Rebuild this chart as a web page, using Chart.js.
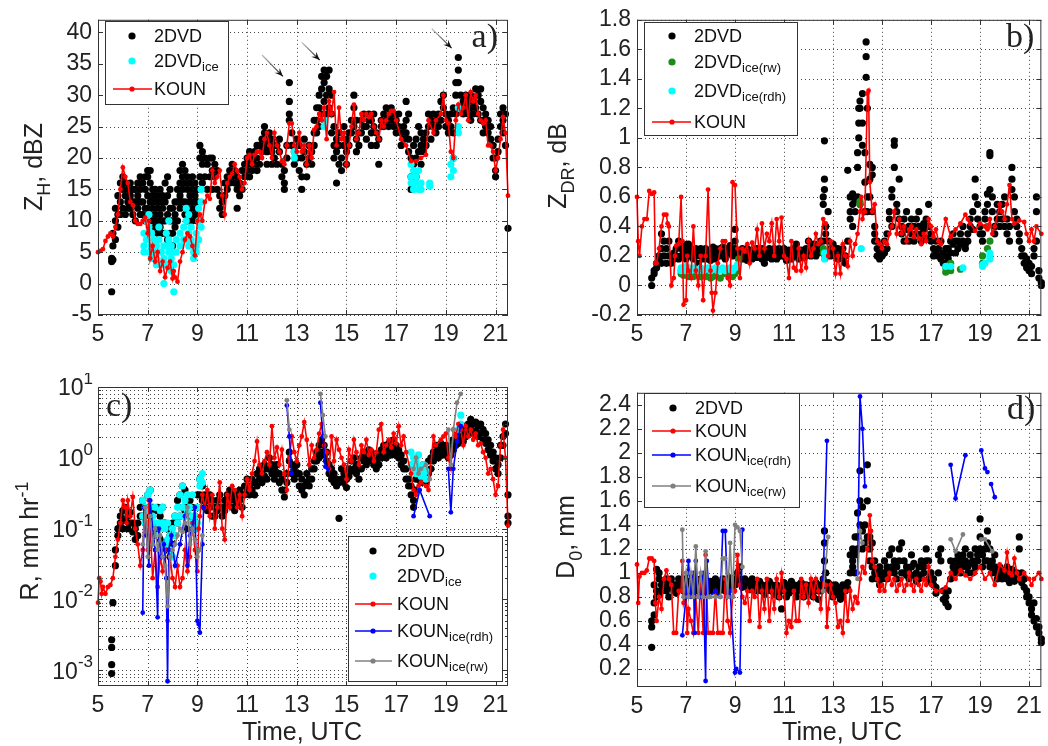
<!DOCTYPE html>
<html>
<head>
<meta charset="utf-8">
<script src="https://cdn.jsdelivr.net/npm/chart.js@4.4.0/dist/chart.umd.min.js"></script>
<style>
  body { margin: 0; background: #fff; }
  #wrap { position: relative; width: 1048px; height: 746px; overflow: hidden; }
  canvas { position: absolute; }
</style>
</head>
<body>
<div id="wrap">
  <canvas id="pa" width="524" height="373" style="left:0;top:0"></canvas>
  <canvas id="pb" width="524" height="373" style="left:524px;top:0"></canvas>
  <canvas id="pc" width="524" height="373" style="left:0;top:373px"></canvas>
  <canvas id="pd" width="524" height="373" style="left:524px;top:373px"></canvas>
</div>
<script>
// time axis (UTC hours)
const xTicks = [5, 7, 9, 11, 13, 15, 17, 19, 21];
const zhTicks = [-5, 0, 5, 10, 15, 20, 25, 30, 35, 40];
const zdrTicks = [-0.2, 0, 0.2, 0.4, 0.6, 0.8, 1, 1.2, 1.4, 1.6, 1.8];
const rDecades = [1e-3, 1e-2, 1e-1, 1, 10];
const d0Ticks = [0.2, 0.4, 0.6, 0.8, 1, 1.2, 1.4, 1.6, 1.8, 2, 2.2, 2.4];

// ---- a) Z_H, dBZ ----  rows: [time, values...]
const zhDvd = [
[5.55,4,3.5,-1.3],[5.6,6,8,3.8],[5.7,10,12,7],[5.8,11,14,9],[5.9,16,13,11],[6.0,17,15,12],[6.1,14,16,11],[6.2,13,15,12],[6.3,12,14,16],[6.4,11,15,13],
[6.5,13,15,10],[6.6,14,16,12],[6.7,15,13,17,11],[6.8,16,13,11],[6.9,15,12,17,10],[7.0,14,17,18,12],[7.1,18,16,13,11],[7.2,14,12,15,10],[7.3,13,11,15,9],[7.4,12,14,10,8],
[7.5,13,15,11,9],[7.6,14,12,10,8],[7.7,16,13,8,10],[7.8,17,14,7,11],[7.9,15,12,10,8],[8.0,12,10,6,8],[8.1,11,9,13],[8.2,13,15,10],[8.3,16,18,14,12],[8.4,17,19,15,13],
[8.5,16,13,18,11],[8.6,15,12,17,10],[8.7,14,16,13,11],[8.8,15,17,12,10],[8.9,14,16,11,13],[9.0,13,15,10,12],[9.1,20,22,17],[9.2,19,16,21],[9.3,17,20],[9.4,19,15],
[9.5,20,17],[9.6,18,15,20],[9.7,17,19],[9.8,15,18],[9.9,14,12],[10.0,11,13],[10.1,16,14],[10.2,17,15],[10.3,16,18],[10.4,17,19],
[10.5,18,16],[10.6,15,12,17],[10.7,14,16],[10.8,15,18],[10.9,17,19],[11.0,20,18],[11.1,19,21,17],[11.2,20,18],[11.3,21,19],[11.4,20,22,18],
[11.5,22,19],[11.6,23,21],[11.7,24,25,22],[11.8,23,21,19],[11.9,22,24],[12.0,21,23,19],[12.1,20,22],[12.2,22,19],[12.3,21,23],[12.4,17,19],
[12.5,16,18,15],[12.6,22,20],[12.7,32,29,27,26],[12.8,24,22],[12.9,21,19],[13.0,23,20],[13.1,22,18],[13.2,17,15,20],[13.3,21,23],[13.4,19,17],
[13.5,22,20],[13.6,21,19],[13.7,24,26,22],[13.8,26,28,24],[13.9,28,30,25],[14.0,31,33,27],[14.1,34,32,29],[14.2,33,30,27],[14.3,34,31,28],[14.4,30,27,24],
[14.5,25,22,20],[14.6,23,21,16],[14.7,24,22,19],[14.8,20,18],[14.9,22,25],[15.0,21,19,23],[15.1,24,22],[15.2,26,24],[15.3,28,30,25],[15.4,26,23,21],
[15.5,24,22],[15.6,26,24],[15.7,27,25],[15.8,25,23],[15.9,27,26],[16.0,26,24,22],[16.1,25,27],[16.2,24,22],[16.3,23,19],[16.4,26,25],
[16.5,27,25],[16.6,28,26],[16.7,27,25],[16.8,28,26],[16.9,27,25],[17.0,26,24],[17.1,25,27],[17.2,24,22],[17.3,25,23],[17.4,26,29,24],
[17.5,27,23,21],[17.6,20,17,15],[17.7,22,19],[17.8,23,20,17],[17.9,25,21],[18.0,24,22,19],[18.1,23,21],[18.2,24,22],[18.3,27,25],[18.4,26,23],
[18.5,25,27],[18.6,24,26],[18.7,27,25],[18.8,26,29],[18.9,30,28],[19.0,27,25],[19.1,26,24],[19.2,25,27],[19.3,28,24,20],[19.4,32,30,27],
[19.5,36,34,32],[19.6,30,28],[19.7,27,29],[19.8,30,28],[19.9,29,27],[20.0,30,28,26],[20.1,29,27],[20.2,31,28],[20.3,30,27],[20.4,31,29,26],
[20.5,28,26,24],[20.6,27,25],[20.7,26,24],[20.8,25,23],[20.9,22,20],[21.0,18,17,20],[21.1,21,23],[21.2,25,27],[21.3,28,26,24],[21.4,27,22],[21.5,8.8]
];
const zhIce = [
[6.85,8,6,5],[6.95,10,7],[7.05,11,9,5],[7.15,8,6,4],[7.25,7,5],[7.35,6,4,3],[7.45,9,7,5],[7.55,5,3],[7.65,6,4,0],[7.75,8,6,3],
[7.85,10,7,5],[7.95,6,4,2],[8.05,5,-1.3,3],[8.15,7,5],[8.3,8,6],[8.45,9,7],[8.55,12,10,7],[8.65,11,8,6],[8.75,9,7],[8.85,6,5,4],
[8.95,8,6,5],[9.05,12,10,7],[9.15,15,13,9],[12.9,21,20],[14.1,26,25],[17.6,19,17,16],[17.7,18,15],[17.8,17,16],[17.9,18,15],[18.0,16,15],
[18.35,16,15.5],[19.2,19,17],[19.3,18,20],[19.5,25,24,28]
];
const zhKoun = [
[5.0,5],[5.1,5.2],[5.2,5.5],[5.3,6.8],[5.4,7.5],[5.5,8],[5.6,7.5],[5.7,9],[5.8,11],[5.9,15],[6.0,18.5],[6.1,17],[6.2,16],[6.3,13],[6.4,12.5],
[6.5,10],[6.6,9.5],[6.7,9.5],[6.8,10],[6.9,10.5],[7.0,8],[7.05,10],[7.1,4],[7.2,6],[7.3,3.5],[7.4,5],[7.5,2],[7.6,3.5],[7.7,1],[7.8,2.5],
[7.9,3.5],[8.0,0.8],[8.05,2],[8.1,1],[8.2,0.3],[8.3,3.5],[8.4,5],[8.5,7],[8.6,8],[8.7,7.5],[8.8,6],[8.9,4.5],[9.0,10],[9.1,11],[9.2,10],
[9.3,13],[9.4,14],[9.5,13.5],[9.6,18],[9.7,16],[9.8,17],[9.9,18],[10.0,14],[10.1,11],[10.2,16],[10.3,17],[10.4,17.5],[10.5,19],[10.6,18],[10.7,17],
[10.8,15],[10.9,16],[11.0,20],[11.1,20.5],[11.2,19],[11.3,20.5],[11.4,21],[11.5,21],[11.6,20],[11.7,23],[11.8,24],[11.9,22],[12.0,20],[12.1,24],[12.2,22],
[12.3,21],[12.4,19.5],[12.5,19],[12.6,22],[12.7,25.5],[12.8,25.5],[12.9,22],[13.0,21],[13.1,24],[13.2,21],[13.3,22],[13.4,19],[13.5,22],[13.6,20],[13.7,24.5],
[13.8,25],[13.9,27],[14.0,26],[14.1,28],[14.2,23],[14.3,29],[14.4,27],[14.5,30.5],[14.6,22],[14.7,28],[14.8,23],[14.9,24],[15.0,19],[15.1,22],[15.2,25],
[15.3,28.5],[15.4,23],[15.5,24],[15.6,27],[15.7,26],[15.8,27],[15.9,26.5],[16.0,27],[16.1,25],[16.2,24],[16.3,23],[16.4,26],[16.5,25],[16.6,26],[16.7,27],
[16.8,27.5],[16.9,27.5],[17.0,26],[17.2,23],[17.4,22],[17.6,19.5],[17.8,19.5],[18.0,20],[18.2,20.5],[18.3,26],[18.5,24],[18.6,26],[18.8,27],[18.9,30],[19.0,26],
[19.1,25.5],[19.2,21],[19.3,20],[19.4,26],[19.5,28.5],[19.6,27],[19.7,28],[19.8,30],[19.9,26],[20.0,30.5],[20.1,29],[20.2,30],[20.3,27],[20.4,26],[20.5,25.5],
[20.6,26],[20.7,22],[20.8,22],[20.9,21],[21.0,18],[21.1,20],[21.2,23],[21.3,26.5],[21.4,24],[21.5,14]
];
// arrows pointing at the peaks: [tail, tip] in data units
const zhArrows = [[[11.6,36.4],[12.44,33]], [[13.2,38.4],[13.92,35.6]], [[18.43,40.6],[19.23,37.5]]];

// ---- b) Z_DR, dB ----
const zdrDvd = [
[5.6,0,0.05],[5.7,0.08,0.1],[5.8,0.12,0.15],[5.9,0.18,0.2],[6.0,0.25,0.35,0.15],[6.1,0.3,0.2],[6.2,0.25,0.15],[6.3,0.2,0.3],[6.4,0.2,0.15],[6.5,0.22,0.18],
[6.6,0.2,0.25],[6.7,0.18,0.3],[6.8,0.25,0.2],[6.9,0.28,0.22],[7.0,0.25,0.18],[7.1,0.22,0.28],[7.2,0.2,0.25],[7.3,0.18,0.22],[7.4,0.2,0.25],[7.5,0.15,0.22],
[7.6,0.25,0.2],[7.7,0.22,0.18],[7.8,0.2,0.25],[7.9,0.18,0.23],[8.0,0.2,0.17],[8.1,0.22,0.26],[8.2,0.18,0.25],[8.3,0.22,0.2],[8.4,0.25,0.2],[8.5,0.22,0.26],
[8.6,0.2,0.18],[8.7,0.25,0.23],[8.8,0.22,0.27],[8.9,0.2,0.24],[9.0,0.25,0.38,0.3],[9.1,0.2,0.22],[9.2,0.22,0.18],[9.3,0.18,0.25],[9.4,0.2,0.22],[9.5,0.25,0.17],
[9.6,0.22,0.2],[9.7,0.18,0.24],[9.8,0.2,0.23],[9.9,0.25,0.19],[10.0,0.22,0.2],[10.1,0.18,0.25],[10.2,0.2,0.15],[10.3,0.23,0.19],[10.4,0.2,0.25],[10.5,0.18,0.22],
[10.6,0.25,0.2],[10.7,0.22,0.18],[10.8,0.2,0.25],[10.9,0.23,0.2],[11.0,0.2,0.25],[11.1,0.22,0.17],[11.2,0.2,0.24],[11.3,0.18,0.22],[11.4,0.25,0.2],[11.5,0.22,0.28],
[11.6,0.2,0.18],[11.7,0.24,0.2],[11.8,0.22,0.19],[11.9,0.25,0.2],[12.0,0.3,0.22],[12.1,0.25,0.2],[12.2,0.22,0.28],[12.3,0.2,0.25],[12.4,0.28,0.22],[12.5,0.25,0.3],
[12.6,0.55,0.6,0.3],[12.65,0.98,0.72,0.65],[12.7,0.4,0.35],[12.8,0.5,0.3],[12.9,0.25,0.2],[13.0,0.22,0.28],[13.1,0.2,0.25],[13.2,0.25,0.18],[13.3,0.2,0.22],[13.4,0.18,0.25],
[13.5,0.2,0.15],[13.6,0.3,0.78],[13.7,0.5,0.6,0.45],[13.8,0.55,0.62,0.4],[13.9,0.5,0.58],[14.0,0.8,0.9,0.6],[14.05,1.0,1.1,1.2],[14.1,1.25,1.2,0.55],[14.2,1.3,1.1,0.95],[14.3,0.9,0.7,0.5],
[14.35,1.55,1.65,1.41],[14.4,1.2,0.6,0.5],[14.5,0.82,0.72,0.6],[14.6,0.75,0.8,0.5],[14.7,0.35,0.3,0.4],[14.8,0.25,0.2,0.3],[14.9,0.18,0.22],[15.0,0.2,0.25],[15.1,0.3,0.22],[15.2,0.25,0.35],
[15.3,0.45,0.5],[15.4,0.6,0.65,0.4],[15.5,0.98,0.95,0.8],[15.6,0.55,0.5],[15.7,0.45,0.72],[15.8,0.35,0.4],[15.9,0.3,0.45],[16.0,0.38,0.5],[16.1,0.4,0.3],[16.2,0.35,0.45],
[16.3,0.3,0.4],[16.4,0.45,0.35],[16.5,0.4,0.5],[16.6,0.3,0.35],[16.7,0.38,0.42],[16.8,0.32,0.45],[16.9,0.4,0.55],[17.0,0.35,0.3],[17.1,0.25,0.2],[17.2,0.3,0.22],
[17.3,0.2,0.25],[17.4,0.18,0.3],[17.5,0.15,0.22],[17.6,0.2,0.25],[17.7,0.25,0.18],[17.8,0.22,0.3],[17.9,0.28,0.35],[18.0,0.22,0.3],[18.1,0.3,0.25],[18.2,0.35,0.28],
[18.3,0.3,0.4],[18.4,0.28,0.25],[18.5,0.35,0.3],[18.6,0.4,0.45],[18.7,0.5,0.38],[18.8,0.6,0.72],[18.9,0.55,0.45],[19.0,0.4,0.35],[19.1,0.35,0.3],[19.2,0.5,0.45],
[19.3,0.55,0.62],[19.4,0.88,0.9,0.65],[19.5,0.6,0.5],[19.6,0.4,0.35],[19.7,0.45,0.55],[19.8,0.4,0.5],[19.9,0.45,0.55],[20.0,0.6,0.4],[20.1,0.45,0.35],[20.2,0.4,0.3],
[20.3,0.65,0.72,0.8],[20.4,0.6,0.5],[20.5,0.4,0.45],[20.6,0.3,0.35],[20.7,0.25,0.2],[20.8,0.15,0.2],[20.9,0.12,0.18],[21.0,0.1,0.15],[21.1,0.08,0.13],[21.2,0.2,0.25],
[21.3,0.3,0.6,0.5],[21.4,0.05,0.1],[21.5,0,0.02]
];
const zdrIceRw = [
[6.8,0.1,0.08],[6.9,0.07],[7.0,0.08],[7.1,0.06],[7.2,0.07],[7.3,0.06],[7.4,0.08],[7.5,0.07],[7.6,0.06],[7.7,0.07],[7.8,0.06],[7.9,0.08],[8.0,0.05],
[8.1,0.06],[8.2,0.07],[8.4,0.05],[8.6,0.08],[8.8,0.07],[8.9,0.06],[9.0,0.08],[9.1,0.1],[9.15,0.18],[12.6,0.25,0.22],[14.1,0.55,0.57],
[17.6,0.09,0.12],[17.8,0.1,0.15],[18.2,0.11],[19.1,0.15,0.2],[19.3,0.25,0.4],[19.4,0.3]
];
const zdrIceRdh = [
[6.8,0.12,0.1],[6.9,0.11],[7.0,0.1,0.13],[7.1,0.12],[7.2,0.1],[7.3,0.12],[7.4,0.11],[7.5,0.1],[7.6,0.12],[7.7,0.1],[7.8,0.11],[7.9,0.12],[8.0,0.1],
[8.1,0.11],[8.2,0.12],[8.3,0.1],[8.4,0.11],[8.5,0.12],[8.6,0.1],[8.7,0.11],[8.8,0.12],[8.9,0.1],[9.0,0.12],[9.1,0.14],[12.65,0.18,0.22],[14.15,0.25],
[17.6,0.13],[17.8,0.13],[18.3,0.12],[19.1,0.14,0.13],[19.2,0.15],[19.4,0.18,0.2,0.22]
];
const zdrKoun = [
[5.0,0.6],[5.05,0.3],[5.1,0.2],[5.2,0.4],[5.3,0.45],[5.4,0.45],[5.5,0.64],[5.6,0.62],[5.7,0.63],[5.75,0.15],[5.8,0.15],[5.9,0.25],[6.0,0.4],[6.1,0.48],[6.2,0.48],
[6.25,0.42],[6.3,0.4],[6.4,0],[6.5,0.05],[6.55,0.2],[6.6,0.27],[6.7,0.28],[6.8,0.6],[6.85,0.3],[6.9,-0.13],[7.0,-0.1],[7.05,0.2],[7.1,0.1],[7.2,0.05],[7.3,0.4],
[7.4,0.1],[7.5,0],[7.6,0.2],[7.7,-0.1],[7.8,0.2],[7.9,0.65],[8.0,0.1],[8.05,-0.05],[8.1,-0.17],[8.2,-0.05],[8.3,0.15],[8.4,0.25],[8.5,0.3],[8.6,0.3],[8.7,0.05],
[8.8,0],[8.9,0.7],[9.0,0.68],[9.1,0.25],[9.2,0.05],[9.3,0.25],[9.4,0.23],[9.5,0.28],[9.6,0.15],[9.7,0.29],[9.8,0.25],[9.9,0.38],[10.0,0.2],[10.1,0.42],[10.2,0.25],
[10.3,0.35],[10.4,0.3],[10.5,0.42],[10.6,0.2],[10.7,0.45],[10.8,0.3],[10.9,0.46],[11.0,0.2],[11.1,0.18],[11.2,0.05],[11.3,0.3],[11.4,0.12],[11.5,0.1],[11.6,0.25],[11.7,0.1],
[11.8,0.2],[11.9,0.12],[12.0,0.3],[12.1,0.2],[12.2,0.25],[12.3,0.35],[12.4,0.28],[12.5,0.3],[12.6,0.45],[12.7,0.42],[12.8,0.2],[12.9,0.3],[13.0,0.25],[13.1,0.08],[13.2,0.2],
[13.3,0.08],[13.4,0.28],[13.5,0.2],[13.6,0.13],[13.7,0.3],[13.8,0.2],[13.9,0.28],[14.0,0.35],[14.1,0.5],[14.15,0.6],[14.2,0.45],[14.3,0.5],[14.4,1.3],[14.45,1.32],[14.5,0.7],
[14.6,0.5],[14.7,0.55],[14.8,0.3],[14.9,0.28],[15.0,0.25],[15.1,0.3],[15.2,0.28],[15.3,0.35],[15.4,0.4],[15.5,0.5],[15.6,0.35],[15.7,0.45],[15.8,0.35],[15.9,0.4],[16.0,0.3],
[16.1,0.38],[16.2,0.4],[16.3,0.33],[16.4,0.38],[16.5,0.32],[16.6,0.28],[16.7,0.35],[16.8,0.3],[16.9,0.45],[17.0,0.4],[17.1,0.33],[17.2,0.38],[17.3,0.3],[17.4,0.28],[17.6,0.45],
[17.8,0.33],[18.0,0.38],[18.2,0.42],[18.4,0.48],[18.5,0.45],[18.6,0.42],[18.8,0.37],[19.0,0.42],[19.2,0.4],[19.3,0.38],[19.4,0.45],[19.5,0.35],[19.6,0.4],[19.8,0.55],[19.9,0.5],
[20.0,0.45],[20.1,0.55],[20.2,0.68],[20.3,0.45],[20.4,0.42],[20.6,0.44],[20.8,0.43],[20.9,0.35],[21.0,0.3],[21.1,0.38],[21.2,0.3],[21.3,0.4],[21.5,0.35]
];

// ---- c) R, mm/hr ----
const rDvd = [
[5.55,0.0009,0.0012,0.0021,0.0027],[5.6,0.009],[5.7,0.03,0.05],[5.8,0.1,0.08],[5.9,0.15,0.12],[6.0,0.18,0.1],[6.1,0.2,0.13],[6.2,0.15,0.1],[6.3,0.12,0.17],[6.4,0.09,0.12],
[6.5,0.07,0.1],[6.6,0.12,0.08],[6.7,0.2,0.15],[6.8,0.25,0.15],[6.9,0.2,0.12],[7.0,0.3,0.2],[7.1,0.35,0.15],[7.2,0.2,0.1],[7.3,0.18,0.08],[7.4,0.2,0.1],
[7.5,0.15,0.07],[7.6,0.2,0.12],[7.7,0.12,0.06],[7.8,0.1,0.05],[7.9,0.08,0.04],[8.0,0.12,0.06],[8.1,0.15,0.08],[8.2,0.25,0.12],[8.3,0.3,0.15],[8.4,0.4,0.2],
[8.5,0.35,0.18],[8.6,0.2,0.1],[8.7,0.25,0.15],[8.8,0.2,0.12],[8.9,0.15,0.1],[9.0,0.3,0.2],[9.1,0.5,0.3],[9.2,0.4,0.25],[9.3,0.3,0.2],[9.4,0.25,0.18],
[9.5,0.3,0.2],[9.6,0.25,0.15],[9.7,0.2,0.15],[9.8,0.25,0.18],[9.9,0.3,0.2],[10.0,0.2,0.15],[10.1,0.25,0.18],[10.2,0.3,0.22],[10.3,0.35,0.25],[10.4,0.3,0.2],
[10.5,0.25,0.18],[10.6,0.3,0.22],[10.7,0.35,0.25],[10.8,0.3,0.2],[10.9,0.4,0.3],[11.0,0.5,0.35],[11.1,0.4,0.3],[11.2,0.5,0.35],[11.3,0.45,0.3],[11.4,0.6,0.4],
[11.5,0.7,0.5],[11.6,0.6,0.45],[11.7,0.8,0.55],[11.8,0.7,0.5],[11.9,1.0,0.7],[12.0,0.8,0.6],[12.1,0.7,0.5],[12.2,0.8,0.6],[12.3,0.6,0.45],[12.4,0.5,0.35],
[12.5,0.35,0.28],[12.6,0.6,0.45],[12.7,1.2,0.9],[12.8,0.8,0.6],[12.9,0.7,0.5],[13.0,0.8,0.6],[13.1,0.6,0.4],[13.2,0.5,0.35],[13.3,0.4,0.3],[13.4,0.6,0.45],
[13.5,0.5,0.4],[13.6,0.7,0.5],[13.7,0.9,0.7],[13.8,1.2,0.9],[13.9,1.5,1.0],[14.0,1.8,1.2],[14.1,1.5,1.1],[14.2,1.2,0.9],[14.3,0.8,0.6],[14.4,0.7,0.5],
[14.5,0.6,0.45],[14.6,0.5,0.4],[14.7,0.14,0.45],[14.8,0.7,0.5],[14.9,0.6,0.45],[15.0,0.5,0.38],[15.1,0.7,0.55],[15.2,0.9,0.65],[15.3,1.0,0.7],[15.4,0.8,0.6],
[15.5,0.7,0.5],[15.6,1.0,0.7],[15.7,1.2,0.9],[15.8,1.0,0.8],[15.9,1.3,0.9],[16.0,1.2,1.0],[16.1,1.0,0.8],[16.2,0.9,0.7],[16.3,1.1,0.8],[16.4,1.3,1.0],
[16.5,1.5,1.1],[16.6,1.3,1.0],[16.7,1.6,1.2],[16.8,1.4,1.1],[16.9,1.8,1.3],[17.0,1.5,1.1],[17.1,1.3,1.0],[17.2,1.1,0.8],[17.3,0.9,0.7],[17.4,0.7,0.5],
[17.5,0.5,0.4],[17.6,0.4,0.3],[17.7,0.25,0.2],[17.8,0.5,0.35],[17.9,0.7,0.5],[18.0,0.6,0.45],[18.1,0.8,0.55],[18.2,0.6,0.45],[18.3,0.9,0.6],[18.4,1.0,0.7],
[18.5,1.2,0.9],[18.6,1.5,1.1],[18.7,1.3,1.0],[18.8,1.6,1.2],[18.9,1.4,1.1],[19.0,1.5,1.2],[19.1,1.3,1.0],[19.2,1.5,1.1],[19.3,1.8,1.3],[19.4,2.0,1.5],
[19.5,2.2,1.6],[19.6,2.5,1.8],[19.7,2.2,1.7],[19.8,2.8,2.0],[19.9,3.0,2.2],[20.0,3.5,2.5],[20.1,3.0,2.2],[20.2,3.2,2.4],[20.3,2.8,2.0],[20.4,3.0,2.2],
[20.5,2.5,1.8],[20.6,2.2,1.6],[20.7,1.8,1.3],[20.8,1.5,1.1],[20.9,1.2,0.9],[21.0,1.0,0.7],[21.1,0.8,0.6],[21.2,1.5,1.0],[21.3,2.0,1.5],[21.4,3.0,2.2],
[21.5,0.15,0.12,0.3]
];
const rIce = [
[6.8,0.25,0.15],[6.9,0.2,0.12],[7.0,0.3,0.18],[7.1,0.35,0.2],[7.2,0.15,0.1],[7.3,0.2,0.12],[7.4,0.12,0.08],[7.5,0.18,0.1],[7.6,0.2,0.12],[7.7,0.1,0.06],
[7.8,0.12,0.07],[7.9,0.08,0.05],[8.0,0.1,0.04],[8.1,0.15,0.08],[8.2,0.2,0.12],[8.3,0.3,0.15],[8.4,0.4,0.2],[8.5,0.25,0.15],[8.6,0.3,0.18],[8.7,0.2,0.12],
[8.8,0.3,0.15],[8.9,0.15,0.1],[9.0,0.2,0.12],[9.1,0.5,0.4],[9.2,0.6,0.45],[17.6,1.2,0.8],[17.7,1.0,0.7],[17.8,0.9,0.6],[17.9,1.1,0.75],[18.0,0.7,0.55],
[18.1,0.8,0.6],[18.2,0.65,0.5],[19.5,2.5],[19.6,4.0,3.0]
];
const rKoun = [
[5.0,0.009],[5.05,0.02],[5.1,0.018],[5.15,0.012],[5.2,0.015],[5.3,0.012],[5.4,0.015],[5.5,0.016],[5.6,0.02],[5.7,0.04],[5.8,0.07],[5.9,0.12],[6.0,0.25],[6.1,0.2],[6.15,0.12],
[6.2,0.25],[6.3,0.15],[6.4,0.28],[6.5,0.1],[6.6,0.06],[6.7,0.03],[6.8,0.05],[6.9,0.2],[7.0,0.05],[7.05,0.25],[7.1,0.1],[7.2,0.02],[7.3,0.05],[7.4,0.015],[7.5,0.04],
[7.6,0.025],[7.7,0.05],[7.8,0.005],[7.9,0.04],[8.0,0.02],[8.1,0.015],[8.2,0.03],[8.3,0.015],[8.4,0.02],[8.5,0.05],[8.6,0.025],[8.7,0.04],[8.8,0.12],[8.9,0.05],[9.0,0.025],
[9.05,0.1],[9.1,0.15],[9.2,0.3],[9.3,0.2],[9.4,0.35],[9.5,0.15],[9.6,0.3],[9.7,0.1],[9.8,0.2],[9.9,0.45],[10.0,0.1],[10.1,0.07],[10.2,0.3],[10.3,0.2],[10.4,0.4],
[10.5,0.35],[10.6,0.2],[10.7,0.3],[10.8,0.15],[10.9,0.3],[11.0,0.5],[11.1,0.35],[11.2,0.6],[11.3,0.9],[11.4,1.7],[11.5,0.8],[11.6,0.6],[11.7,0.9],[11.8,1.2],[11.9,0.8],
[12.0,2.8],[12.1,1.0],[12.2,1.4],[12.3,0.8],[12.4,1.3],[12.5,0.6],[12.6,0.35],[12.7,1.0],[12.8,2.0],[12.9,1.2],[13.0,0.9],[13.1,1.5],[13.2,2.0],[13.3,3.2],[13.4,1.8],
[13.5,0.8],[13.6,1.5],[13.7,1.0],[13.8,1.3],[13.9,2.2],[14.0,3.0],[14.1,1.5],[14.2,1.2],[14.3,0.7],[14.4,2.0],[14.5,0.9],[14.6,1.8],[14.7,1.3],[14.8,1.0],[14.9,0.8],
[15.0,0.5],[15.1,1.3],[15.2,0.9],[15.3,1.8],[15.4,1.2],[15.5,0.8],[15.6,1.5],[15.7,1.2],[15.8,1.8],[15.9,1.1],[16.0,1.3],[16.1,0.9],[16.2,1.2],[16.3,2.5],[16.4,3.0],
[16.5,1.2],[16.6,1.5],[16.7,1.8],[16.8,1.4],[16.9,2.2],[17.0,1.6],[17.1,2.8],[17.2,1.5],[17.3,2.0],[17.4,1.2],[17.6,0.6],[17.7,0.35],[17.8,0.3],[17.9,0.4],[18.0,0.45],
[18.2,0.4],[18.3,0.35],[18.5,2.0],[18.6,1.5],[18.8,1.8],[18.9,2.0],[19.0,2.2],[19.1,1.0],[19.2,0.7],[19.3,2.5],[19.4,2.0],[19.5,3.0],[19.6,2.5],[19.7,1.5],[19.8,2.8],
[19.9,2.0],[20.0,2.5],[20.1,1.8],[20.2,2.2],[20.3,1.5],[20.4,1.6],[20.5,1.2],[20.6,1.0],[20.7,0.6],[20.8,0.7],[20.9,0.5],[21.0,0.3],[21.1,0.4],[21.2,1.5],[21.3,2.5],
[21.4,1.0],[21.5,0.11]
];
const rKounRdh = [
[6.8,0.0065],[6.85,0.2],[6.95,0.08],[7.05,0.03],[7.1,0.25],[7.2,0.1],[7.3,0.05],[7.4,0.0056],[7.45,0.1],[7.55,0.04],[7.65,0.06],[7.75,0.02],[7.8,0.0007],
[7.85,0.05],[7.95,0.08],[8.1,0.03],[8.3,0.06],[8.5,0.15],[8.6,0.03],[8.7,0.08],[8.8,0.1],[8.9,0.2],[9.0,0.005],[9.05,0.0045],[9.1,0.0034],[9.2,0.06],[9.25,0.2],
[9.3,null],[12.6,5.5],[12.7,2.0],[12.8,0.6],[12.9,null],[13.95,6.0],[14.05,2.0],[14.15,0.75],[14.25,0.7],[14.3,null],
[17.7,0.15],[17.95,0.35],[18.35,0.15],[18.5,null],[19.1,0.7],[19.2,0.17],[19.3,0.7],[19.45,1.7],[19.6,2.8]
];
const rKounRw = [
[6.8,0.06],[6.9,0.2],[7.0,0.04],[7.1,0.15],[7.2,0.06],[7.3,0.1],[7.4,0.05],[7.5,0.08],[7.6,0.04],[7.7,0.03],[7.8,0.008],[7.9,0.04],[8.0,0.05],[8.1,0.06],[8.2,0.08],
[8.3,0.1],[8.4,0.09],[8.5,0.12],[8.6,0.2],[8.7,0.06],[8.8,0.1],[8.9,0.07],[9.0,0.04],[9.1,0.05],[9.2,0.08],[9.3,null],[12.6,6.5],[12.7,2.5],[12.8,null],
[13.95,8.0],[14.05,4.0],[14.15,2.0],[14.3,null],[17.7,0.7],[17.8,1.0],[17.9,0.6],[18.0,0.7],[18.2,0.8],[18.35,0.5],[18.5,null],
[19.1,2.5],[19.2,0.8],[19.3,2.5],[19.45,6.0],[19.6,8.0]
];

// ---- d) D0, mm ----
const d0Dvd = [
[5.6,0.38,0.55,0.6],[5.7,0.65,0.75,0.9],[5.8,0.8,1.03,0.85],[5.9,0.95,1.0,0.82],[6.0,0.9,0.85],[6.1,0.92,0.88],[6.2,0.85,0.95],[6.3,0.8,0.9],[6.4,0.88,0.95],[6.5,0.85,0.9],
[6.6,0.9,0.83],[6.7,0.95,0.87],[6.8,0.88,0.92],[6.9,0.85,0.95],[7.0,0.9,0.82],[7.1,0.87,0.93],[7.2,0.9,0.85],[7.3,0.95,0.88],[7.4,0.85,0.9],[7.5,0.92,0.86],
[7.6,0.88,0.95],[7.7,0.9,0.83],[7.8,0.86,0.94],[7.9,0.9,0.85],[8.0,0.93,0.88],[8.1,0.85,0.9],[8.2,0.88,0.95],[8.3,0.9,0.84],[8.4,0.86,0.92],[8.5,0.9,0.95],
[8.6,0.88,0.85],[8.7,0.93,0.87],[8.8,0.9,0.96],[8.9,0.88,0.94],[9.0,0.95,0.9],[9.1,0.92,1.0],[9.2,0.95,1.05],[9.3,0.92,0.88],[9.4,0.9,0.95],[9.5,0.88,0.93],
[9.6,0.92,0.86],[9.7,0.9,0.95],[9.8,0.87,0.92],[9.9,0.9,0.85],[10.0,0.93,0.88],[10.1,0.85,0.9],[10.2,0.88,0.82],[10.3,0.9,0.85],[10.4,0.87,0.93],[10.5,0.9,0.85],
[10.6,0.82,0.88],[10.7,0.85,0.9],[10.8,0.88,0.8],[10.9,0.7,0.85],[11.0,0.88,0.92],[11.1,0.85,0.8],[11.2,0.9,0.83],[11.3,0.87,0.93],[11.4,0.85,0.9],[11.5,0.8,0.88],
[11.6,0.9,0.85],[11.7,0.86,0.92],[11.8,0.8,0.88],[11.9,0.85,0.9],[12.0,0.88,0.82],[12.1,0.9,0.85],[12.2,0.85,0.8],[12.3,0.88,0.92],[12.4,0.85,0.78],[12.5,0.9,0.85],
[12.6,0.95,0.88],[12.65,1.35,1.25,1.1],[12.7,1.0,0.9],[12.8,0.92,0.87],[12.9,0.85,0.9],[13.0,0.88,0.8],[13.1,0.9,0.85],[13.2,0.82,0.88],[13.3,0.85,0.78],[13.4,0.8,0.9],
[13.5,0.88,0.85],[13.6,0.92,0.87],[13.7,1.0,1.15],[13.8,1.2,1.05,1.1],[13.9,1.3,1.15,1.0],[14.0,1.5,1.3,1.2],[14.1,1.6,1.85,1.4],[14.2,1.55,1.35,1.2],[14.3,1.4,1.25],[14.4,1.9,1.6,1.3],
[14.5,1.3,1.2,1.1],[14.6,1.25,1.05,0.95],[14.7,1.1,1.0],[14.8,1.0,0.95],[14.9,0.9,1.05],[15.0,0.95,1.0],[15.1,1.0,1.1],[15.2,1.05,0.95],[15.3,1.15,1.0],[15.4,1.2,1.05],
[15.5,1.1,1.0],[15.6,1.05,0.95],[15.7,1.2,1.1],[15.8,1.25,1.0],[15.9,1.1,1.0],[16.0,1.05,0.98],[16.1,1.0,0.95],[16.2,1.15,1.05],[16.3,1.08,0.98],[16.4,1.0,0.93],
[16.5,1.05,0.95],[16.6,0.98,1.1],[16.7,1.0,1.05],[16.8,1.2,1.1],[16.9,1.1,0.95],[17.0,1.0,0.92],[17.1,0.95,0.9],[17.2,0.88,0.83],[17.3,1.0,1.15],[17.4,1.1,1.2],
[17.5,0.85,0.78],[17.6,0.75,0.8],[17.7,0.85,0.72],[17.8,0.95,1.1],[17.9,1.05,1.0],[18.0,1.1,1.0],[18.1,1.15,1.05],[18.2,1.1,1.0],[18.3,1.05,1.15],[18.4,1.2,1.1],
[18.5,1.05,1.0],[18.6,1.15,1.08],[18.7,1.1,1.0],[18.8,1.2,1.05],[18.9,1.1,1.15],[19.0,1.45,1.3,1.2],[19.1,1.15,1.05],[19.2,1.2,1.1],[19.3,1.35,1.25,1.1],[19.4,1.2,1.05],
[19.5,1.1,1.0],[19.6,1.05,1.15],[19.7,1.0,0.95],[19.8,1.05,0.98],[19.9,1.0,0.95],[20.0,0.98,1.02],[20.1,0.95,1.05],[20.2,1.0,0.92],[20.3,0.97,1.03],[20.4,0.93,1.0],
[20.5,1.0,0.95],[20.6,1.3,1.2],[20.7,1.0,0.92],[20.8,0.95,0.88],[20.9,0.85,0.8],[21.0,0.8,0.75],[21.1,0.7,0.65],[21.2,0.75,0.6],[21.3,0.62,0.55],[21.4,0.5,0.55],
[21.5,0.42,0.45]
];
const d0Koun = [
[5.0,1.07],[5.05,0.75],[5.1,0.97],[5.2,1.0],[5.3,1.0],[5.4,1.02],[5.5,1.12],[5.6,1.12],[5.7,1.1],[5.75,0.75],[5.8,0.6],[5.9,0.8],[6.0,0.7],[6.1,0.95],[6.2,1.02],
[6.3,0.95],[6.4,0.9],[6.5,0.5],[6.6,0.5],[6.7,0.85],[6.8,0.85],[6.85,1.1],[6.9,0.75],[7.0,0.85],[7.05,0.5],[7.1,0.7],[7.2,0.6],[7.3,0.5],[7.4,0.8],[7.5,0.5],
[7.6,0.95],[7.7,0.5],[7.8,1.15],[7.9,0.5],[8.0,0.5],[8.1,0.5],[8.2,0.85],[8.3,0.5],[8.4,0.5],[8.5,0.5],[8.6,0.95],[8.7,0.6],[8.8,0.5],[8.9,0.8],[9.0,0.85],
[9.1,1.15],[9.2,0.9],[9.3,0.8],[9.4,0.75],[9.5,0.85],[9.6,0.6],[9.7,0.85],[9.8,0.8],[9.9,0.95],[10.0,0.55],[10.1,0.85],[10.2,0.7],[10.3,0.95],[10.4,0.6],[10.5,0.85],
[10.6,0.7],[10.7,0.95],[10.8,0.8],[10.9,1.0],[11.0,0.85],[11.1,0.5],[11.2,0.6],[11.3,0.55],[11.4,0.85],[11.5,0.6],[11.6,0.6],[11.7,0.95],[11.8,0.8],[11.9,0.9],[12.0,0.75],
[12.1,0.95],[12.2,0.8],[12.3,0.95],[12.4,0.85],[12.5,0.7],[12.6,0.95],[12.7,0.9],[12.75,0.55],[12.8,0.7],[12.9,0.9],[13.0,0.8],[13.1,0.75],[13.2,0.55],[13.3,0.6],[13.4,0.5],
[13.5,0.85],[13.6,0.6],[13.7,0.85],[13.8,0.7],[13.9,0.8],[14.0,0.75],[14.1,0.95],[14.2,1.05],[14.3,1.0],[14.4,1.2],[14.5,1.48],[14.55,1.35],[14.6,1.1],[14.7,1.05],[14.8,0.95],
[14.9,0.85],[15.0,0.9],[15.1,0.85],[15.2,0.95],[15.3,1.0],[15.4,0.9],[15.5,0.95],[15.6,0.85],[15.7,0.9],[15.8,0.95],[15.9,0.85],[16.0,0.9],[16.1,1.0],[16.2,0.9],[16.3,0.85],
[16.4,0.95],[16.5,0.9],[16.6,0.85],[16.7,0.95],[16.8,0.9],[16.9,1.05],[17.0,0.9],[17.2,0.85],[17.4,0.85],[17.6,0.88],[17.8,1.0],[18.0,0.95],[18.2,1.02],[18.4,0.98],[18.6,0.95],
[18.8,1.0],[19.0,1.05],[19.2,0.95],[19.4,1.0],[19.6,0.9],[19.8,1.07],[20.0,1.02],[20.1,1.17],[20.2,1.0],[20.3,0.98],[20.4,1.12],[20.5,1.0],[20.6,0.95],[20.8,1.0],[21.0,0.95],
[21.1,0.9],[21.2,0.95],[21.4,1.0],[21.5,0.95]
];
const d0KounRdh = [
[6.85,0.48],[7.0,0.8],[7.1,1.1],[7.2,0.8],[7.3,1.0],[7.35,0.5],[7.4,1.1],[7.5,0.8],[7.6,0.8],[7.7,1.0],[7.8,0.1],[7.85,1.1],[7.95,0.8],[8.2,0.85],[8.4,0.8],
[8.5,1.35],[8.6,1.35],[8.7,0.8],[8.8,0.85],[9.0,0.17],[9.05,0.2],[9.2,0.17],[9.3,1.36],[9.4,null],[12.6,0.95],[12.75,2.1],[12.9,null],
[14.0,1.0],[14.1,2.47],[14.2,2.2],[14.3,1.72],[14.4,null],[17.8,1.9],[18.0,1.62],[18.4,1.98],[18.6,null],
[19.05,2.02],[19.2,1.87],[19.3,1.84],[19.38,null],[19.45,1.74],[19.6,1.63]
];
const d0KounRw = [
[6.85,1.36],[6.9,0.8],[7.0,1.0],[7.1,0.8],[7.2,1.0],[7.3,0.8],[7.4,1.22],[7.5,0.8],[7.6,1.0],[7.7,0.8],[7.8,1.18],[7.9,0.8],[8.0,0.8],[8.2,0.8],[8.4,0.8],
[8.5,1.12],[8.6,1.12],[8.7,0.8],[8.8,1.25],[8.9,0.8],[9.0,1.4],[9.1,1.38],[9.2,1.35],[9.3,1.05],[9.4,null],[12.6,0.85],[12.8,1.3],[12.9,null],
[14.0,0.95],[14.1,1.35],[14.2,1.25],[14.3,null],[17.8,1.28],[18.0,1.18],[18.3,1.32],[18.5,null],[19.05,1.28],[19.2,1.28],[19.5,1.18]
];

const SANS = '"Liberation Sans", Arial, Helvetica, sans-serif';
const SERIF = '"Liberation Serif", "Times New Roman", serif';

function pts(rows) {
    return rows.flatMap(r => r.slice(1).map(v => ({x: r[0], y: v})));
}
function path(rows) {
    return rows.map(r => ({x: r[0], y: r[1]}));
}
function dots(rows, color, order) {
    return {data: pts(rows), showLine: false, pointRadius: 3.6, pointBorderWidth: 0,
        pointBackgroundColor: color, pointBorderColor: color, order: order, clip: false};
}
function trace(rows, color, order) {
    return {data: path(rows), showLine: true, spanGaps: false, borderColor: color, borderWidth: 1.6,
        pointRadius: 2.4, pointBorderWidth: 0, pointBackgroundColor: color, pointBorderColor: color,
        order: order, clip: false};
}

// draws text made of parts: [text, 'n' | 'sub' | 'sup']
function rich(ctx, parts, x, y, size, align) {
    let w = 0;
    parts.forEach(p => {
        ctx.font = (p[1] === 'n' ? size : Math.round(size * 0.72)) + 'px ' + SANS;
        w += ctx.measureText(p[0]).width;
    });
    let cx = align === 'center' ? x - w / 2 : (align === 'right' ? x - w : x);
    ctx.textAlign = 'left';
    parts.forEach(p => {
        const s = p[1] === 'n' ? size : Math.round(size * 0.72);
        ctx.font = s + 'px ' + SANS;
        const dy = p[1] === 'sub' ? size * 0.32 : (p[1] === 'sup' ? -size * 0.42 : 0);
        ctx.fillText(p[0], cx, y + dy);
        cx += ctx.measureText(p[0]).width;
    });
}

const panels = {
    pa: {label: 'a)', labelPos: [498, 47, 'right'], ylab: [['Z', 'n'], ['H', 'sub'], [', dBZ', 'n']], ylabPos: [42, 167],
        legend: {box: [105, 21, 228, 104], mx: 132, lx: [113, 152], tx: 154, items: [
            {kind: 'dot', color: '#000', text: [['2DVD', 'n']], y: 36},
            {kind: 'dot', color: '#00ffff', text: [['2DVD', 'n'], ['ice', 'sub']], y: 61},
            {kind: 'line', color: '#ff0000', text: [['KOUN', 'n']], y: 89}]},
        arrows: zhArrows},
    pb: {label: 'b)', labelPos: [482, 47, 'left'], ylab: [['Z', 'n'], ['DR', 'sub'], [', dB', 'n']], ylabPos: [42, 166],
        legend: {box: [120, 22, 273, 135], mx: 148, lx: [128, 167], tx: 170, items: [
            {kind: 'dot', color: '#000', text: [['2DVD', 'n']], y: 36},
            {kind: 'dot', color: '#1a8c1a', text: [['2DVD', 'n'], ['ice(rw)', 'sub']], y: 62},
            {kind: 'dot', color: '#00ffff', text: [['2DVD', 'n'], ['ice(rdh)', 'sub']], y: 91},
            {kind: 'line', color: '#ff0000', text: [['KOUN', 'n']], y: 122}]}},
    pc: {label: 'c)', labelPos: [106, 43, 'left'], ylab: [['R, mm hr', 'n'], ['-1', 'sup']], ylabPos: [38, 168],
        xlab: [['Time, UTC', 'n']], xlabPos: [302, 367], logLabels: true,
        legend: {box: [348, 163, 502, 308], mx: 373, lx: [355, 392], tx: 397, items: [
            {kind: 'dot', color: '#000', text: [['2DVD', 'n']], y: 178},
            {kind: 'dot', color: '#00ffff', text: [['2DVD', 'n'], ['ice', 'sub']], y: 203},
            {kind: 'line', color: '#ff0000', text: [['KOUN', 'n']], y: 231},
            {kind: 'line', color: '#0000ff', text: [['KOUN', 'n'], ['ice(rdh)', 'sub']], y: 258},
            {kind: 'line', color: '#808080', text: [['KOUN', 'n'], ['ice(rw)', 'sub']], y: 288}]}},
    pd: {label: 'd)', labelPos: [483, 46, 'left'], ylab: [['D', 'n'], ['0', 'sub'], [', mm', 'n']], ylabPos: [50, 164],
        xlab: [['Time, UTC', 'n']], xlabPos: [318, 367],
        legend: {box: [120, 20, 275, 134], mx: 149, lx: [128, 167], tx: 171, items: [
            {kind: 'dot', color: '#000', text: [['2DVD', 'n']], y: 35},
            {kind: 'line', color: '#ff0000', text: [['KOUN', 'n']], y: 58},
            {kind: 'line', color: '#0000ff', text: [['KOUN', 'n'], ['ice(rdh)', 'sub']], y: 82},
            {kind: 'line', color: '#808080', text: [['KOUN', 'n'], ['ice(rw)', 'sub']], y: 113}]}}
};

const decor = {
    id: 'decor',
    beforeDatasetsDraw(chart) {
        const ctx = chart.ctx, a = chart.chartArea, sx = chart.scales.x, sy = chart.scales.y;
        ctx.save();
        ctx.strokeStyle = '#444';
        ctx.lineWidth = 1;
        ctx.setLineDash([1, 3]);
        ctx.beginPath();
        sx.ticks.forEach(t => {
            const px = Math.round(sx.getPixelForValue(t.value)) + 0.5;
            ctx.moveTo(px, a.top); ctx.lineTo(px, a.bottom);
        });
        sy.ticks.forEach(t => {
            const py = Math.round(sy.getPixelForValue(t.value)) + 0.5;
            ctx.moveTo(a.left, py); ctx.lineTo(a.right, py);
        });
        ctx.stroke();
        ctx.restore();
    },
    afterDraw(chart) {
        const p = panels[chart.canvas.id];
        const ctx = chart.ctx, a = chart.chartArea, sx = chart.scales.x, sy = chart.scales.y;
        ctx.save();
        // axes box and inward tick marks
        ctx.strokeStyle = '#333';
        ctx.lineWidth = 1;
        ctx.strokeRect(a.left + 0.5, a.top + 0.5, a.right - a.left - 1, a.bottom - a.top - 1);
        ctx.beginPath();
        sx.ticks.forEach(t => {
            const px = Math.round(sx.getPixelForValue(t.value)) + 0.5;
            ctx.moveTo(px, a.bottom); ctx.lineTo(px, a.bottom - 5);
            ctx.moveTo(px, a.top); ctx.lineTo(px, a.top + 5);
        });
        sy.ticks.forEach(t => {
            const py = Math.round(sy.getPixelForValue(t.value)) + 0.5;
            const len = p.logLabels && !rDecades.includes(t.value) ? 3 : 5;
            ctx.moveTo(a.left, py); ctx.lineTo(a.left + len, py);
            ctx.moveTo(a.right, py); ctx.lineTo(a.right - len, py);
        });
        ctx.stroke();
        ctx.fillStyle = '#222';
        ctx.textBaseline = 'middle';
        if (p.logLabels) {
            rDecades.forEach(v => {
                const py = sy.getPixelForValue(v);
                rich(ctx, [['10', 'n'], [String(Math.round(Math.log10(v))), 'sup']], a.left - 5, py + 2, 23, 'right');
            });
        }
        // panel letter
        ctx.textBaseline = 'alphabetic';
        ctx.font = '34px ' + SERIF;
        ctx.textAlign = p.labelPos[2];
        ctx.fillText(p.label, p.labelPos[0], p.labelPos[1]);
        // axis titles
        ctx.save();
        ctx.translate(p.ylabPos[0], p.ylabPos[1]);
        ctx.rotate(-Math.PI / 2);
        rich(ctx, p.ylab, 0, 0, 25, 'center');
        ctx.restore();
        if (p.xlab) rich(ctx, p.xlab, p.xlabPos[0], p.xlabPos[1], 25, 'center');
        // legend
        const L = p.legend, b = L.box;
        ctx.fillStyle = '#fff';
        ctx.fillRect(b[0], b[1], b[2] - b[0], b[3] - b[1]);
        ctx.strokeStyle = '#333';
        ctx.strokeRect(b[0] + 0.5, b[1] + 0.5, b[2] - b[0], b[3] - b[1]);
        L.items.forEach(it => {
            if (it.kind === 'line') {
                ctx.strokeStyle = it.color;
                ctx.lineWidth = 1.6;
                ctx.beginPath(); ctx.moveTo(L.lx[0], it.y); ctx.lineTo(L.lx[1], it.y); ctx.stroke();
            }
            ctx.fillStyle = it.color;
            ctx.beginPath();
            ctx.arc(L.mx, it.y, it.kind === 'line' ? 2.6 : 3.6, 0, Math.PI * 2);
            ctx.fill();
            ctx.fillStyle = '#111';
            ctx.textBaseline = 'middle';
            rich(ctx, it.text, L.tx, it.y + 1, 18, 'left');
        });
        // arrows
        (p.arrows || []).forEach(ar => {
            const x0 = sx.getPixelForValue(ar[0][0]), y0 = sy.getPixelForValue(ar[0][1]);
            const x1 = sx.getPixelForValue(ar[1][0]), y1 = sy.getPixelForValue(ar[1][1]);
            const g = ctx.createLinearGradient(x0, y0, x1, y1);
            g.addColorStop(0, '#bbb'); g.addColorStop(1, '#222');
            ctx.strokeStyle = g;
            ctx.lineWidth = 1.2;
            ctx.beginPath(); ctx.moveTo(x0, y0); ctx.lineTo(x1, y1); ctx.stroke();
            const ang = Math.atan2(y1 - y0, x1 - x0);
            ctx.fillStyle = '#111';
            ctx.beginPath();
            ctx.moveTo(x1, y1);
            ctx.lineTo(x1 - 9 * Math.cos(ang - 0.4), y1 - 9 * Math.sin(ang - 0.4));
            ctx.lineTo(x1 - 5 * Math.cos(ang), y1 - 5 * Math.sin(ang));
            ctx.lineTo(x1 - 9 * Math.cos(ang + 0.4), y1 - 9 * Math.sin(ang + 0.4));
            ctx.closePath();
            ctx.fill();
        });
        ctx.restore();
    }
};

function fmt(v) {
    return String(Math.round(v * 10) / 10);
}

function makeChart(id, datasets, yScale, fit) {
    const y = Object.assign({
        grid: {display: false, drawTicks: false},
        border: {display: false},
        ticks: {font: {family: SANS, size: 23}, color: '#222', padding: 6, autoSkip: false, callback: fmt},
        afterFit: s => { s.width = fit.left; }
    }, yScale);
    return new Chart(document.getElementById(id), {
        type: 'scatter',
        data: {datasets: datasets},
        options: {
            responsive: false,
            animation: false,
            devicePixelRatio: 1,
            events: [],
            layout: {padding: {top: fit.top, right: fit.right, left: 0, bottom: 0}},
            plugins: {legend: {display: false}, tooltip: {enabled: false}},
            scales: {
                x: {
                    type: 'linear', min: 5, max: 21.5,
                    grid: {display: false, drawTicks: false},
                    border: {display: false},
                    afterBuildTicks: s => { s.ticks = xTicks.map(v => ({value: v})); },
                    afterFit: s => { s.height = fit.bottom; },
                    ticks: {font: {family: SANS, size: 23}, color: '#222', padding: 6, maxRotation: 0, autoSkip: false}
                },
                y: y
            }
        },
        plugins: [decor]
    });
}

makeChart('pa', [
    dots(zhDvd, '#000', 5),
    dots(zhIce, '#00ffff', 4),
    trace(zhKoun, '#ff0000', 1)
], {type: 'linear', min: -5, max: 42, afterBuildTicks: s => { s.ticks = zhTicks.map(v => ({value: v})); }},
   {left: 98, top: 14, right: 16, bottom: 58});

makeChart('pb', [
    dots(zdrDvd, '#000', 5),
    dots(zdrIceRw, '#1a8c1a', 4),
    dots(zdrIceRdh, '#00ffff', 3),
    trace(zdrKoun, '#ff0000', 1)
], {type: 'linear', min: -0.2, max: 1.8, afterBuildTicks: s => { s.ticks = zdrTicks.map(v => ({value: v})); }},
   {left: 113, top: 15, right: 2, bottom: 58});

const rGrid = [7e-4, 8e-4, 9e-4];
rDecades.forEach(d => { for (let k = 1; k <= 9; k++) if (d * k <= 10) rGrid.push(d * k); });

makeChart('pc', [
    dots(rDvd, '#000', 6),
    dots(rIce, '#00ffff', 5),
    trace(rKoun, '#ff0000', 3),
    trace(rKounRdh, '#0000ff', 2),
    trace(rKounRw, '#808080', 1)
], {type: 'logarithmic', min: 6.2e-4, max: 10, ticks: {display: false},
    afterBuildTicks: s => { s.ticks = rGrid.map(v => ({value: v})); }},
   {left: 98, top: 14, right: 16, bottom: 60});

makeChart('pd', [
    dots(d0Dvd, '#000', 5),
    trace(d0Koun, '#ff0000', 3),
    trace(d0KounRdh, '#0000ff', 2),
    trace(d0KounRw, '#808080', 1)
], {type: 'linear', min: 0.05, max: 2.5, afterBuildTicks: s => { s.ticks = d0Ticks.map(v => ({value: v})); }},
   {left: 113, top: 13, right: 2, bottom: 59});
</script>
</body>
</html>
